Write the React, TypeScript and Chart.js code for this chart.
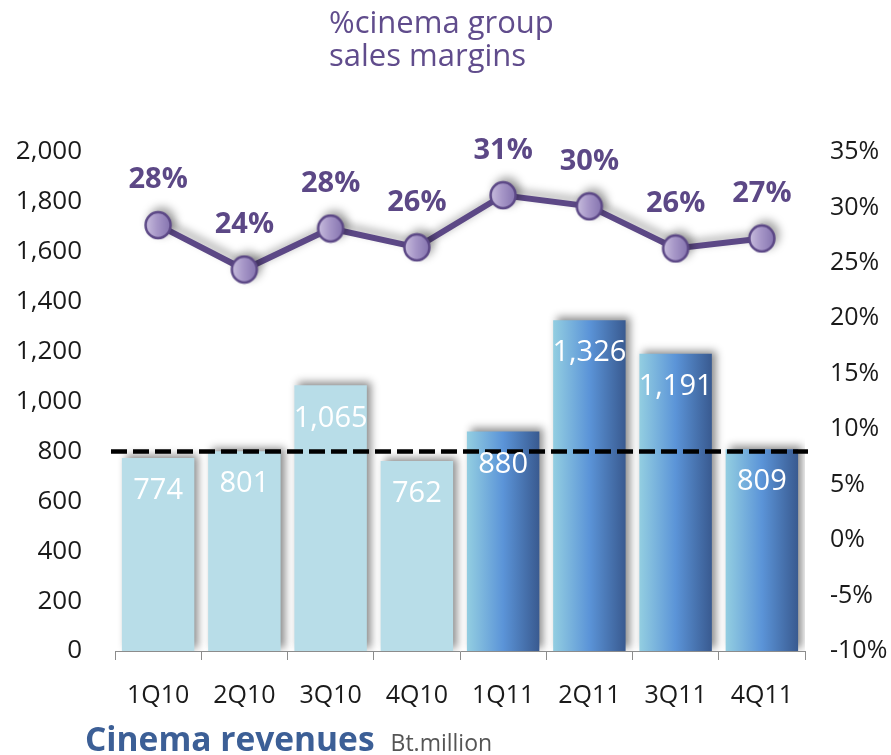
import React, { useEffect, useRef } from 'react';
import { Chart, registerables } from 'chart.js';

Chart.register(...registerables);

const categories = ['1Q10', '2Q10', '3Q10', '4Q10', '1Q11', '2Q11', '3Q11', '4Q11'];
const revenues = [774, 801, 1065, 762, 880, 1326, 1191, 809];
const margins = [28.4, 24.4, 28.1, 26.4, 31.1, 30.1, 26.3, 27.2];
const referenceLevel = [800];
const leftAxisRange = [0, 2000, 200];
const rightAxisRange = [-10, 35, 5];

const FONT = "'Open Sans', 'Noto Sans', sans-serif";
const PURPLE = '#5c4886';

function makePointImage(): HTMLCanvasElement {
  const c = document.createElement('canvas');
  c.width = 30;
  c.height = 30;
  const g = c.getContext('2d')!;
  const grad = g.createLinearGradient(3, 0, 27, 0);
  grad.addColorStop(0, '#c7bcdd');
  grad.addColorStop(0.45, '#a797c8');
  grad.addColorStop(1, '#8675b0');
  g.beginPath();
  g.ellipse(15, 15, 12.5, 13, 0, 0, Math.PI * 2);
  g.fillStyle = grad;
  g.fill();
  g.lineWidth = 2.5;
  g.strokeStyle = PURPLE;
  g.stroke();
  return c;
}

export default function App() {
  const ref = useRef<HTMLCanvasElement | null>(null);

  useEffect(() => {
    if (!ref.current) return;
    const pointImg = makePointImage();

    const customPlugin = {
      id: 'customDraw',
      beforeDatasetDraw(chart: any, args: any) {
        const ctx = chart.ctx;
        ctx.save();
        if (args.index === 0) {
          ctx.shadowColor = 'rgba(0,0,0,0.45)';
          ctx.shadowBlur = 8;
          ctx.shadowOffsetX = 4;
          ctx.shadowOffsetY = -3;
        } else {
          ctx.shadowColor = 'rgba(0,0,0,0.35)';
          ctx.shadowBlur = 9;
          ctx.shadowOffsetX = 4;
          ctx.shadowOffsetY = -4;
        }
      },
      afterDatasetDraw(chart: any, args: any) {
        const ctx = chart.ctx;
        ctx.restore();
        if (args.index !== 0) return;
        const area = chart.chartArea;
        const yL = chart.scales.y;
        const yPix = yL.getPixelForValue(referenceLevel[0]);
        ctx.save();
        ctx.strokeStyle = '#000';
        ctx.lineWidth = 4.5;
        ctx.setLineDash([16, 6]);
        ctx.beginPath();
        ctx.moveTo(area.left - 4, yPix);
        ctx.lineTo(area.right + 3, yPix);
        ctx.stroke();
        ctx.restore();
        const meta = chart.getDatasetMeta(0);
        ctx.save();
        ctx.fillStyle = '#ffffff';
        ctx.font = `29px ${FONT}`;
        ctx.textAlign = 'center';
        ctx.textBaseline = 'middle';
        meta.data.forEach((bar: any, i: number) => {
          ctx.fillText(revenues[i].toLocaleString('en-US'), bar.x, bar.y + 33);
        });
        ctx.restore();
      },
      afterDatasetsDraw(chart: any) {
        const ctx = chart.ctx;
        const meta = chart.getDatasetMeta(1);
        ctx.save();
        ctx.fillStyle = PURPLE;
        ctx.font = `bold 29px ${FONT}`;
        ctx.textAlign = 'center';
        ctx.textBaseline = 'middle';
        meta.data.forEach((pt: any, i: number) => {
          ctx.fillText(margins[i].toFixed(0) + '%', pt.x, pt.y - 45);
        });
        ctx.restore();
      },
    };

    const chart = new Chart(ref.current, {
      type: 'bar',
      data: {
        labels: categories,
        datasets: [
          {
            type: 'bar',
            label: 'Cinema revenues',
            data: revenues,
            yAxisID: 'y',
            order: 1,
            barPercentage: 0.84,
            categoryPercentage: 1,
            borderWidth: 0,
            backgroundColor: (c: any) => {
              const i = c.dataIndex;
              if (i === undefined || i < 4) return '#b8dde8';
              const chart = c.chart;
              const xs = chart.scales && chart.scales.x;
              if (!chart.chartArea || !xs) return '#5b95d8';
              const cx = xs.getPixelForValue(i);
              const w = (xs.width / categories.length) * 0.84;
              const g = chart.ctx.createLinearGradient(cx - w / 2, 0, cx + w / 2, 0);
              g.addColorStop(0, '#93cee1');
              g.addColorStop(0.5, '#5b94d8');
              g.addColorStop(1, '#395a90');
              return g;
            },
          } as any,
          {
            type: 'line',
            label: '%cinema group sales margins',
            data: margins,
            yAxisID: 'y2',
            order: 0,
            borderColor: PURPLE,
            borderWidth: 6,
            tension: 0,
            pointStyle: pointImg,
            pointRadius: 13,
            pointHoverRadius: 13,
          } as any,
        ],
      },
      options: {
        animation: false,
        responsive: false,
        maintainAspectRatio: false,
        events: [],
        layout: { padding: { top: 152, bottom: 0, left: 0, right: 0 } },
        plugins: {
          legend: { display: false },
          tooltip: { enabled: false },
          title: { display: false },
        },
        scales: {
          x: {
            grid: {
              display: true,
              drawOnChartArea: false,
              drawTicks: true,
              tickLength: 9,
              color: '#8c8c8c',
              offset: true,
            },
            border: { display: true, color: '#8c8c8c', width: 1 },
            ticks: {
              color: '#1a1a1a',
              font: { family: FONT, size: 25 },
              padding: 21,
              maxRotation: 0,
              autoSkip: false,
            },
            afterFit: (s: any) => {
              s.height = 104;
            },
          },
          y: {
            position: 'left',
            min: leftAxisRange[0],
            max: leftAxisRange[1],
            grid: { display: false, drawTicks: false },
            border: { display: false },
            ticks: {
              stepSize: leftAxisRange[2],
              color: '#1a1a1a',
              font: { family: FONT, size: 26 },
              padding: 33,
              callback: (v: any) => Number(v).toLocaleString('en-US'),
            },
            afterFit: (s: any) => {
              s.width = 115;
            },
          },
          y2: {
            position: 'right',
            min: rightAxisRange[0],
            max: rightAxisRange[1],
            grid: { display: false, drawTicks: false },
            border: { display: false },
            ticks: {
              stepSize: rightAxisRange[2],
              color: '#1a1a1a',
              font: { family: FONT, size: 25 },
              padding: 25,
              callback: (v: any) => v + '%',
            },
            afterFit: (s: any) => {
              s.width = 86;
            },
          },
        },
      } as any,
      plugins: [customPlugin],
    });

    return () => {
      chart.destroy();
    };
  }, []);

  return (
    <div
      style={{
        position: 'absolute',
        left: 0,
        top: 0,
        width: 891,
        height: 755,
        overflow: 'hidden',
        background: '#ffffff',
        fontFamily: FONT,
      }}
    >
      <canvas ref={ref} width={891} height={755} style={{ position: 'absolute', left: 0, top: 0, width: 891, height: 755 }} />
      <div
        style={{
          position: 'absolute',
          left: 329,
          top: 5,
          fontSize: 31,
          lineHeight: '33px',
          color: '#604c8c',
          whiteSpace: 'nowrap',
        }}
      >
        %cinema group
        <br />
        sales margins
      </div>
      <div
        style={{
          position: 'absolute',
          left: 85,
          top: 718,
          lineHeight: '40px',
          whiteSpace: 'nowrap',
        }}
      >
        <span style={{ fontSize: 33.5, fontWeight: 700, color: '#3c5f96' }}>Cinema revenues</span>
        <span style={{ fontSize: 23, color: '#555555', marginLeft: 16 }}>Bt.million</span>
      </div>
    </div>
  );
}
